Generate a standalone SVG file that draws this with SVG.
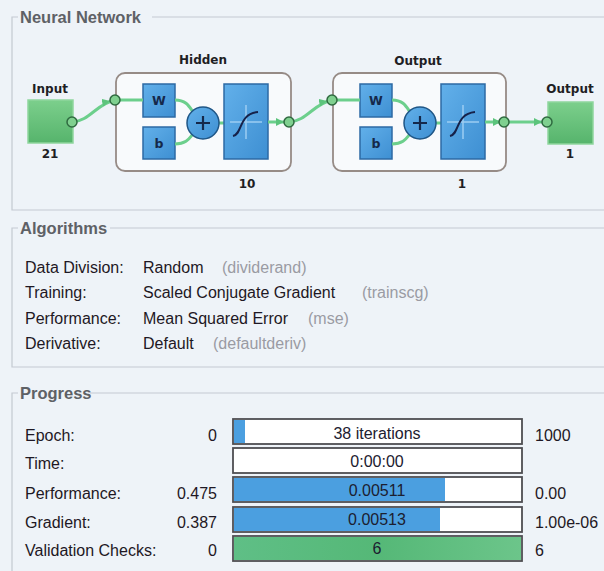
<svg xmlns="http://www.w3.org/2000/svg" width="604" height="571" viewBox="0 0 604 571">
  <defs>
    <linearGradient id="greenFill" x1="0" y1="0" x2="0" y2="1">
      <stop offset="0" stop-color="#7ccf8c"/>
      <stop offset="1" stop-color="#56b46c"/>
    </linearGradient>
    <linearGradient id="blueFill" x1="0" y1="0" x2="1" y2="1">
      <stop offset="0" stop-color="#62b0ea"/>
      <stop offset="1" stop-color="#3e8fd2"/>
    </linearGradient>
    <linearGradient id="barGreen" x1="0" y1="0" x2="1" y2="0">
      <stop offset="0" stop-color="#5fbf86"/>
      <stop offset="0.5" stop-color="#55b877"/>
      <stop offset="1" stop-color="#6cc58a"/>
    </linearGradient>
    <marker id="arrow" viewBox="0 0 8 8" refX="13" refY="4" markerWidth="8" markerHeight="8" markerUnits="userSpaceOnUse" orient="auto">
      <path d="M0,0 L8,4 L0,8 z" fill="#5cc47c"/>
    </marker>
    <g id="layerBody">
      <!-- weight, bias, summing junction and transfer function of one layer -->
      <rect class="blk" x="143" y="84" width="32" height="33"/>
      <text class="blkTxt" x="159" y="105">W</text>
      <rect class="blk" x="143" y="127" width="32" height="32"/>
      <text class="blkTxt" x="159" y="148">b</text>
      <path class="wire" d="M115,100 H143"/>
      <path class="wire" d="M175,100 C186,100 189,106 193,112"/>
      <path class="wire" d="M175,144 C186,144 189,139 193,134"/>
      <path class="wire" d="M219,123 H224"/>
      <circle cx="203" cy="123" r="16" fill="url(#blueFill)" stroke="#1f5686" stroke-width="1.5"/>
      <path d="M196,123 H210 M203,116 V130" stroke="#15284a" stroke-width="2.2"/>
      <rect class="blk" x="224" y="84" width="44" height="75"/>
      <path d="M230,122 H262 M246,105 V139" stroke="#9ccdf2" stroke-width="1.5"/>
      <path d="M233,136 C243,134 238,114 258,112" fill="none" stroke="#16224a" stroke-width="2"/>
      <path class="wire" d="M268,122 H289" marker-end="url(#arrow)"/>
    </g>
  </defs>
  <style>
    .title { font-family: "Liberation Sans", Arial, sans-serif; font-weight: bold; font-size: 16.5px; fill: #5e6166; }
    .frame { fill: none; stroke: #c4cad1; stroke-width: 1.2; }
    .lbl { font-family: "Liberation Sans", Arial, sans-serif; font-size: 16px; fill: #1e1824; }
    .note { font-family: "Liberation Sans", Arial, sans-serif; font-size: 16px; fill: #9a9ba3; }
    .nodeTxt { font-family: "DejaVu Sans", Verdana, sans-serif; font-weight: bold; font-size: 12px; fill: #1e1e24; text-anchor: middle; }
    .blkTxt { font-family: "DejaVu Sans", Verdana, sans-serif; font-weight: bold; font-size: 12.5px; fill: #15284a; text-anchor: middle; }
    .blk { fill: url(#blueFill); stroke: #2c6aa4; stroke-width: 1.5; }
    .wire { fill: none; stroke: #6ccf8c; stroke-width: 3; }
    .port { fill: #7fd08f; stroke: #2f6a40; stroke-width: 1.5; }
    .layerBox { fill: #f8fafc; stroke: #968b86; stroke-width: 1.8; }
    .bar { fill: #ffffff; stroke: #4e4e52; stroke-width: 1.8; }
    .barTxt { font-family: "Liberation Sans", Arial, sans-serif; font-size: 16px; fill: #1c2030; text-anchor: middle; }
    .val { font-family: "Liberation Sans", Arial, sans-serif; font-size: 16px; fill: #1e1824; text-anchor: end; }
  </style>

  <rect x="0" y="0" width="604" height="571" fill="#eef3f8"/>

  <!-- group frames -->
  <g id="frames">
    <path class="frame" d="M18,17 H12 V210 H604 M152,17 H604"/>
    <path class="frame" d="M18,228 H12 V367 H604 M110,228 H604"/>
    <path class="frame" d="M18,393 H12 V571 M90,393 H604"/>
    <text class="title" x="20" y="23">Neural Network</text>
    <text class="title" x="20" y="234">Algorithms</text>
    <text class="title" x="20" y="399">Progress</text>
  </g>

  <!-- connectors between nodes -->
  <g id="connectors">
    <path class="wire" d="M72,122 C90,121 96,104 115,100" marker-end="url(#arrow)"/>
    <path class="wire" d="M289,122 C307,121 313,104 332,100" marker-end="url(#arrow)"/>
    <path class="wire" d="M504,122 H547" marker-end="url(#arrow)"/>
  </g>

  <g id="input-node">
    <text class="nodeTxt" x="50" y="93">Input</text>
    <rect x="28" y="100" width="45" height="43" fill="url(#greenFill)" stroke="#8fd69d" stroke-width="1.5"/>
    <circle class="port" cx="72" cy="122" r="5"/>
    <text class="nodeTxt" x="50" y="158">21</text>
  </g>

  <g id="hidden-layer">
    <text class="nodeTxt" x="203" y="64">Hidden</text>
    <rect class="layerBox" x="116" y="73" width="175" height="98" rx="9"/>
    <use href="#layerBody"/>
    <circle class="port" cx="115" cy="100" r="5"/>
    <circle class="port" cx="289" cy="122" r="5"/>
    <text class="nodeTxt" x="247" y="188">10</text>
  </g>

  <g id="output-layer">
    <text class="nodeTxt" x="418" y="65">Output</text>
    <rect class="layerBox" x="333" y="73" width="173" height="98" rx="9"/>
    <use href="#layerBody" transform="translate(217,0)"/>
    <circle class="port" cx="332" cy="100" r="5"/>
    <circle class="port" cx="504" cy="122" r="5"/>
    <text class="nodeTxt" x="462" y="188">1</text>
  </g>

  <g id="output-node">
    <text class="nodeTxt" x="570" y="93">Output</text>
    <rect x="548" y="102" width="45" height="42" fill="url(#greenFill)" stroke="#8fd69d" stroke-width="1.5"/>
    <circle class="port" cx="547" cy="122" r="5"/>
    <text class="nodeTxt" x="570" y="158">1</text>
  </g>

  <!-- training algorithms -->
  <g id="algorithms">
    <text class="lbl" x="25" y="273">Data Division:</text>
    <text class="lbl" x="143" y="273">Random</text>
    <text class="note" x="222" y="273">(dividerand)</text>
    <text class="lbl" x="25" y="298">Training:</text>
    <text class="lbl" x="143" y="298">Scaled Conjugate Gradient</text>
    <text class="note" x="362" y="298">(trainscg)</text>
    <text class="lbl" x="25" y="324">Performance:</text>
    <text class="lbl" x="143" y="324">Mean Squared Error</text>
    <text class="note" x="308" y="324">(mse)</text>
    <text class="lbl" x="25" y="349">Derivative:</text>
    <text class="lbl" x="143" y="349">Default</text>
    <text class="note" x="213" y="349">(defaultderiv)</text>
  </g>

  <!-- training progress -->
  <g id="progress">
    <text class="lbl" x="25" y="441">Epoch:</text>
    <text class="val" x="217" y="441">0</text>
    <rect class="bar" x="233" y="419" width="289" height="25"/>
    <rect x="234" y="420" width="11" height="23" fill="#4b9fe0"/>
    <text class="barTxt" x="377" y="439">38 iterations</text>
    <text class="lbl" x="535" y="441">1000</text>

    <text class="lbl" x="25" y="469">Time:</text>
    <rect class="bar" x="233" y="448" width="289" height="25"/>
    <text class="barTxt" x="377" y="467">0:00:00</text>

    <text class="lbl" x="25" y="499">Performance:</text>
    <text class="val" x="217" y="499">0.475</text>
    <rect class="bar" x="233" y="477" width="289" height="25"/>
    <rect x="234" y="478" width="211" height="23" fill="#4b9fe0"/>
    <text class="barTxt" x="377" y="496">0.00511</text>
    <text class="lbl" x="535" y="499">0.00</text>

    <text class="lbl" x="25" y="528">Gradient:</text>
    <text class="val" x="217" y="528">0.387</text>
    <rect class="bar" x="233" y="507" width="289" height="25"/>
    <rect x="234" y="508" width="206" height="23" fill="#4b9fe0"/>
    <text class="barTxt" x="377" y="525">0.00513</text>
    <text class="lbl" x="535" y="528">1.00e-06</text>

    <text class="lbl" x="25" y="556">Validation Checks:</text>
    <text class="val" x="217" y="556">0</text>
    <rect class="bar" x="233" y="536" width="289" height="25"/>
    <rect x="234" y="537" width="287" height="23" fill="url(#barGreen)"/>
    <text class="barTxt" x="377" y="554">6</text>
    <text class="lbl" x="535" y="556">6</text>
  </g>
</svg>
